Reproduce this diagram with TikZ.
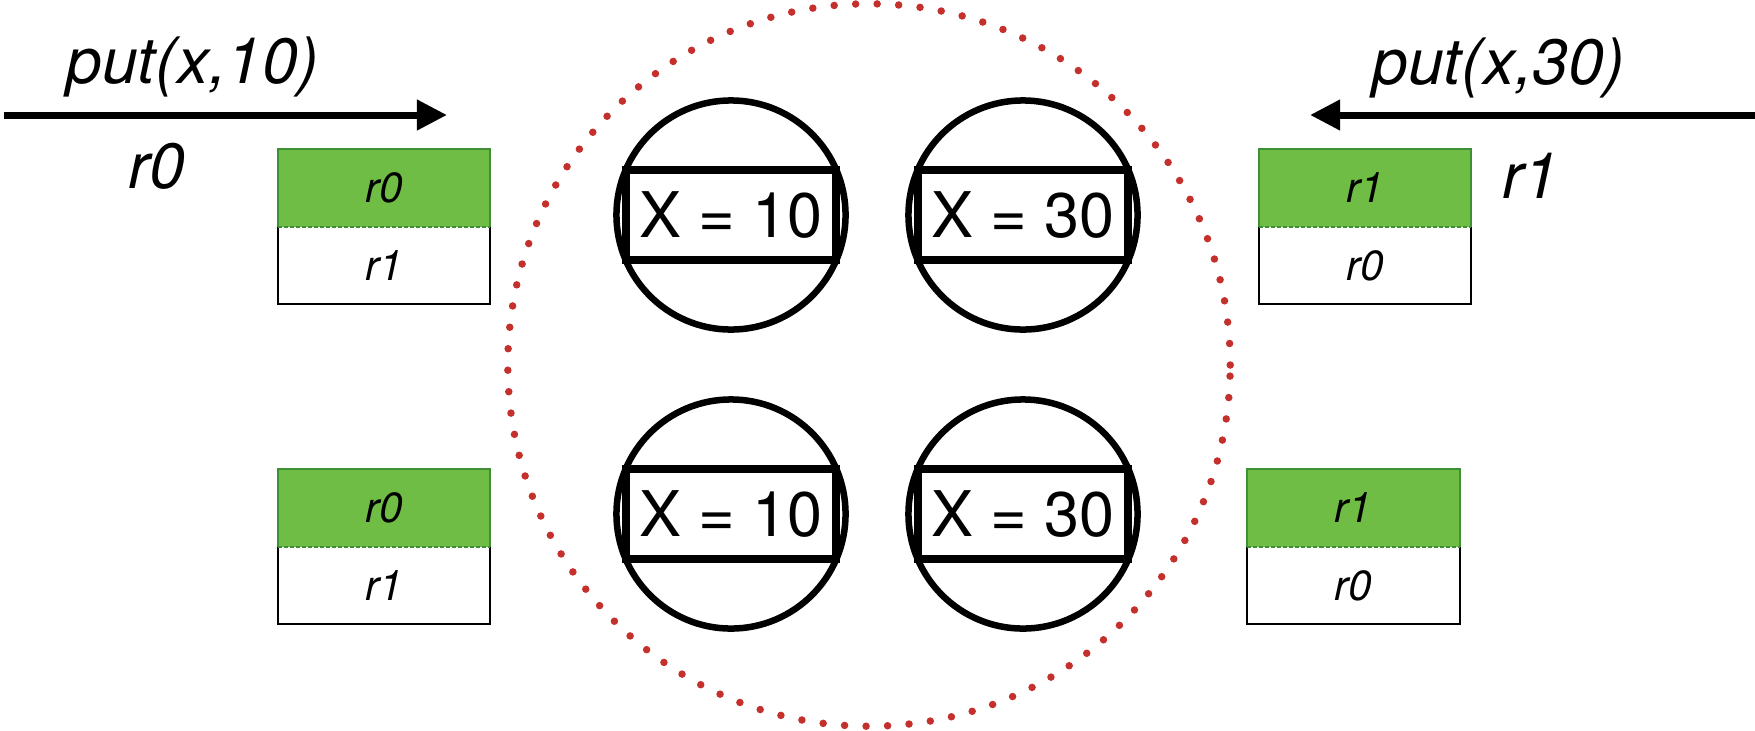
\documentclass[tikz,border=0pt]{standalone}
\usepackage{fontspec}
\setmainfont{TeX Gyre Heros}
\usepackage{xcolor}
\usepackage{tikz}
\usetikzlibrary{arrows.meta, positioning}

\definecolor{slotgreen}{HTML}{70BD45}
\definecolor{slotedge}{HTML}{3F8F36}
\definecolor{ringred}{HTML}{C4302B}

\begin{document}
\begin{tikzpicture}[
      x=0.01cm, y=-0.01cm,
      bigfont/.style={font=\fontsize{18.2}{22}\selectfont\itshape},
      smallfont/.style={font=\fontsize{12}{14}\selectfont\itshape},
      putarrow/.style={line width=0.07cm, -{Triangle[length=0.30cm, width=0.29cm]}},
      ring/.style={circle, draw=ringred, line width=0.075cm, line cap=round,
        dash pattern=on 0pt off 0.215cm, minimum size=7.22cm},
      replica/.style={circle, draw, line width=0.065cm, minimum size=2.29cm},
      valbox/.style={rectangle, draw, line width=0.08cm, minimum width=2.10cm,
        minimum height=0.90cm, inner sep=0pt, font=\fontsize{17.9}{20}\selectfont},
      slothi/.style={rectangle, fill=slotgreen, minimum width=2.12cm,
        minimum height=0.78cm, inner sep=0pt, outer sep=0pt, smallfont},
      slotlo/.style={rectangle, fill=white, minimum width=2.12cm,
        minimum height=0.77cm, inner sep=0pt, outer sep=0pt, smallfont}
    ]
      \useasboundingbox (0,0) rectangle (1755,730);

      % the group of replicas
      \node[ring] (pool) at (869,365) {};
      \foreach \n/\x/\y/\v in {a/731/215/10, b/1023/215/30, c/731/514/10, d/1023/514/30} {
        \node[valbox] (\n-val) at (\x,\y) {X = \v};
        \node[replica] (\n-rep) at (\x,\y) {};
      }

      % clients
      \node[bigfont, anchor=base] (putL) at (193,83) {put(x,10)};
      \coordinate (fromL) at (4,115);
      \coordinate (toL) at (447,115);
      \draw[putarrow] (fromL) -- (toL);
      \node[bigfont, anchor=base] (ownL) at (157,188) {r0};

      \node[bigfont, anchor=base] (putR) at (1499,84) {put(x,30)};
      \coordinate (fromR) at (1755,115);
      \coordinate (toR) at (1310,115);
      \draw[putarrow] (fromR) -- (toR);
      \node[bigfont, anchor=base] (ownR) at (1531,198) {r1};

      % lock order seen by each side
      \foreach \n/\x/\y/\a/\b in {lt/384/188/r0/r1, lb/384/508/r0/r1, rt/1365/188/r1/r0, rb/1353.5/508/r1/r0} {
        \node[slothi] (\n-hi) at (\x,\y) {\a};
        \node[slotlo, below=0pt of \n-hi] (\n-lo) {\b};
        \draw[slotedge, line width=0.02cm] (\n-hi.south west) |- (\n-hi.north east) -- (\n-hi.south east);
        \draw[line width=0.02cm] (\n-lo.north west) |- (\n-lo.south east) -- (\n-lo.north east);
        \draw[slotedge, line width=0.015cm, dash pattern=on 0.04cm off 0.02cm] (\n-hi.south west) -- (\n-hi.south east);
      }
    \end{tikzpicture}
\end{document}
